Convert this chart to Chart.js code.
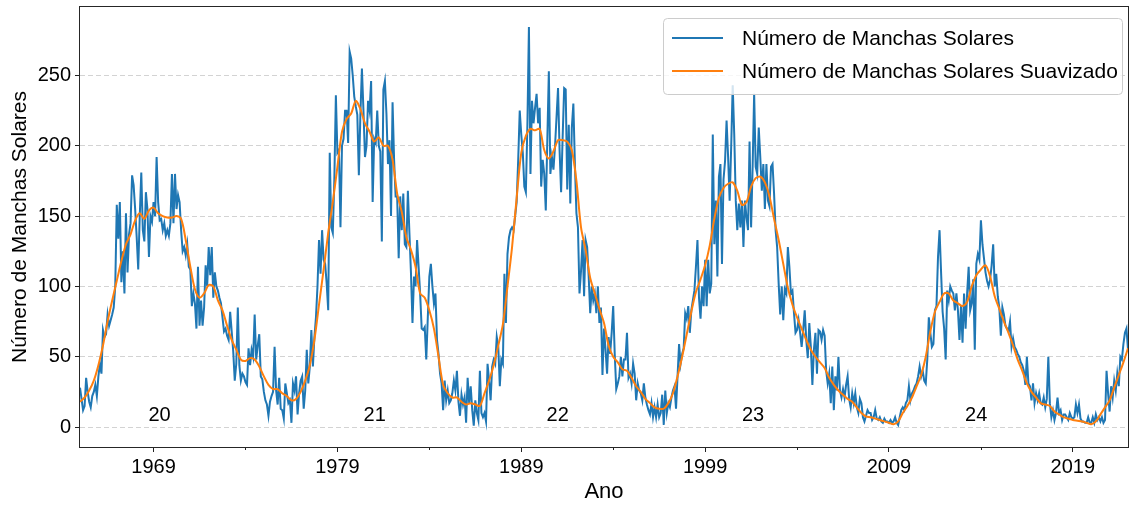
<!DOCTYPE html>
<html>
<head>
<meta charset="utf-8">
<title>Número de Manchas Solares</title>
<script src="https://cdn.jsdelivr.net/npm/chart.js@4.4.1/dist/chart.umd.min.js"></script>
<style>
    html, body { margin: 0; padding: 0; background: #fff; }
    #wrap { width: 1129px; height: 505px; position: relative; }
</style>
</head>
<body>
<div id="wrap"><canvas id="chart"></canvas></div>
<script>
// Número mensal de manchas solares, a partir de jan/1965 (um valor por mês)
const startYear = 1965;

const ssn1965 = [
    28,20,12,15,35,25,18,14,22,25,30,22,
    36,45,38,69,64,66,80,72,76,80,85,100,
    158,134,160,103,125,95,152,110,137,145,179,172,
    155,135,112,150,181,140,132,167,155,121,150,146,
    160,150,192,160,147,148,140,145,136,140,136,145
];
const ssn1970 = [
    180,145,180,155,165,160,140,125,128,122,130,114,
    112,86,95,88,70,114,72,90,72,85,115,100,
    128,108,128,92,110,100,97,92,88,78,68,70,
    65,62,82,68,54,33,45,85,44,33,38,36,
    32,30,56,44,55,50,80,48,58,66,36,34,
    25,19,16,8,18,22,25,57,26,16,35,13,
    12,6,31,24,17,19,3,31,26,36,9,24,
    33,36,13,26,55,31,43,69,43,64,78,100,
    133,109,140,119,116,102,83,195,142,138,176,236,
    195,197,142,200,205,225,225,202,267,262,250,235
];
const ssn1980 = [
    228,222,179,222,255,225,192,200,232,225,246,160,
    205,202,225,200,196,132,240,246,223,187,204,150,
    231,190,164,164,120,164,140,166,130,128,168,138,
    110,74,107,100,133,114,95,70,69,71,48,78,
    107,116,100,88,95,62,52,38,31,12,33,19,
    26,17,19,24,33,26,40,18,8,23,16,21,
    3,35,17,29,12,1,19,10,5,40,10,7,
    10,4,45,33,19,43,48,45,64,57,29,48,
    45,109,74,123,135,140,142,140,150,160,190,225,
    208,195,171,167,215,284.5,180,232,216,227,237,216
];
const ssn1990 = [
    227,171,190,180,154,204,253,180,192,183,199,220,
    241,197,167,206,241,240,169,215,159,213,230,187,
    152,142,95,111,133,93,133,128,107,81,100,90,
    95,81,100,74,85,37,70,55,38,64,52,67,
    86,52,27,31,36,50,36,48,48,67,35,38,
    31,45,38,19,31,26,24,19,31,21,16,12,
    9,17,7,14,7,16,7,10,23,1.5,26,10,
    17,14,21,26,29,13,36,59,45,52,56,81,
    77,86,67,83,90,97,114,133,92,77,100,86,
    119,86,119,95,102,208,130,161,107,178,187,116
];
const ssn2000 = [
    176,189,218,192,161,199,243,208,161,140,159,142,
    161,128,161,149,140,203,142,185,237,185,180,213,
    192,168,187,155,187,161,157,185,187,166,140,128,
    102,80,100,76,98,95,128,114,95,97,81,67,
    69,76,67,57,69,83,62,49,74,57,30,55,
    67,38,69,68,62,69,65,40,31,38,17,43,
    12,36,26,50,26,21,27,21,30,36,20,14,
    24,17,24,14,10,20,17,7,4,8,12,10,
    10,5,7,12,6,5,7,4,3,6,4,4,
    3,5,3,4,7,3,1.4,7,12,14,12,17
];
const ssn2010 = [
    19,29,19,24,26,29,31,36,43,36,40,33,
    31,48,78,67,57,59,83,86,121,140,110,82,
    70,48,97,90,100,97,95,83,95,83,62,86,
    60,95,70,95,114,83,88,105,55,116,123,119,
    147,130,120,110,104,100,105,115,130,100,109,93,
    85,65,85,80,72,70,68,75,57,63,57,55,
    52,50,46,44,40,30,50,31,29,19,31,17,
    24,19,24,17,16,21,14,20,50,17,7,12,
    5,10,21,10,12,5,9,9,7,5,10,7,
    6,7,16,10,16,6,4,4,3,3,7,3
];
const ssn2020 = [
    3,7,3,9,5,7,4,7,3,5,40,24,
    11,29,21,33,26,38,29,50,48,59,67,70,
    55
];

// Série suavizada, lida a cada 3 meses
const smoothStep = 3;
const smoothed = [
    18,21,26,33,44,58,75,90,104,118,130,137,147,152,148,154,156,152,150,149,
    149,150,148,133,114,98,92,95,101,100,90,83,72,62,55,48,47,49,48,43,
    36,30,27,27,24,22,19,20,25,33,44,62,87,112,138,160,185,210,219,223,
    232,226,216,210,203,206,200,200,190,166,153,135,126,114,95,92,83,70,50,30,
    24,21,21,18,16,17,16,15,24,33,44,58,73,100,128,163,195,207,212,211,
    212,197,191,196,204,204,203,197,175,142,126,106,95,84,74,58,50,46,41,40,
    35,29,25,20,17,14,13,13,17,24,36,50,66,82,96,105,115,129,148,163,
    170,173,174,168,158,160,171,177,178,174,164,148,133,116,99,87,78,70,62,55,
    50,46,42,35,30,26,23,20,18,14,10,7.5,7,6,5,4,3,2,4,10,
    15,21,29,37,50,68,82,89,95,95,90,88,86,89,100,108,112,115,107,93,
    84,75,67,58,48,40,31,25,21,17,16,15,11,9,7,6,5,4.5,4,3,
    2,4,9,14,19,28,37,46,56
];

// Eixos e anotações
const xMajorTicks = [1969, 1979, 1989, 1999, 2009, 2019];
const xMinorTicks = [1974, 1984, 1994, 2004, 2014];
const yTicks = [0, 50, 100, 150, 200, 250];
const cycleNames = ['20', '21', '22', '23', '24'];
const cycleYears = [1969.33, 1981.03, 1990.98, 2001.61, 2013.74];
const cycleLevel = 8;

const FONT = '"Liberation Sans", Arial, sans-serif';
const BLUE = '#1f77b4';
const ORANGE = '#ff7f0e';

const sunspots = [].concat(ssn1965, ssn1970, ssn1980, ssn1990, ssn2000, ssn2010, ssn2020);
const rawPoints = sunspots.map((v, i) => ({ x: startYear + i / 12, y: v }));
const smoothPoints = smoothed.map((v, i) => ({ x: startYear + i * smoothStep / 12, y: v }));

// Moldura, ticks menores, números dos ciclos e legenda
const extras = {
    id: 'extras',
    afterDatasetsDraw(chart) {
        const { ctx, chartArea: a, scales: { x, y } } = chart;
        ctx.save();
        ctx.fillStyle = '#000';
        ctx.font = '20px ' + FONT;
        ctx.textAlign = 'center';
        ctx.textBaseline = 'middle';
        cycleNames.forEach((t, i) => {
            ctx.fillText(t, x.getPixelForValue(cycleYears[i]), y.getPixelForValue(cycleLevel));
        });

        // ticks menores
        ctx.strokeStyle = '#222';
        ctx.lineWidth = 1;
        xMinorTicks.forEach(v => {
            const px = Math.round(x.getPixelForValue(v)) + 0.5;
            ctx.beginPath();
            ctx.moveTo(px, a.bottom);
            ctx.lineTo(px, a.bottom + 3);
            ctx.stroke();
        });

        // moldura
        ctx.strokeStyle = '#262626';
        ctx.lineWidth = 1;
        ctx.strokeRect(Math.round(a.left) - 0.5, Math.round(a.top) - 0.5,
            Math.round(a.right - a.left) + 1, Math.round(a.bottom - a.top) + 1);
        ctx.restore();
    },
    afterDraw(chart) {
        const { ctx } = chart;
        const box = { x: 663, y: 18, w: 459, h: 76 };
        ctx.save();
        ctx.beginPath();
        ctx.roundRect(box.x + 0.5, box.y + 0.5, box.w, box.h, 4);
        ctx.fillStyle = 'rgba(255,255,255,0.8)';
        ctx.fill();
        ctx.strokeStyle = '#cccccc';
        ctx.lineWidth = 1;
        ctx.stroke();

        ctx.font = '21px ' + FONT;
        ctx.textAlign = 'left';
        ctx.textBaseline = 'middle';
        ctx.fillStyle = '#000';
        chart.data.datasets.forEach((ds, i) => {
            const ly = 38 + i * 33;
            ctx.strokeStyle = ds.borderColor;
            ctx.lineWidth = 2;
            ctx.beginPath();
            ctx.moveTo(672, ly);
            ctx.lineTo(723, ly);
            ctx.stroke();
            ctx.fillText(ds.label, 742, ly + 1);
        });
        ctx.restore();
    }
};

new Chart(document.getElementById('chart'), {
    type: 'line',
    data: {
        datasets: [
            {
                label: 'Número de Manchas Solares',
                data: rawPoints,
                borderColor: BLUE,
                borderWidth: 2,
                pointRadius: 0,
                tension: 0,
                order: 1
            },
            {
                label: 'Número de Manchas Solares Suavizado',
                data: smoothPoints,
                borderColor: ORANGE,
                borderWidth: 2,
                pointRadius: 0,
                tension: 0.3,
                order: 0
            }
        ]
    },
    options: {
        responsive: true,
        maintainAspectRatio: false,
        devicePixelRatio: 1,
        animation: false,
        layout: { padding: { top: 7, right: 1, left: 0, bottom: 0 } },
        plugins: {
            legend: { display: false },
            tooltip: { enabled: false }
        },
        scales: {
            x: {
                type: 'linear',
                min: 1965,
                max: 2022,
                afterBuildTicks: s => { s.ticks = xMajorTicks.map(v => ({ value: v })); },
                afterFit: s => { s.height = 58; s.paddingLeft = 0; s.paddingRight = 0; },
                ticks: {
                    color: '#000',
                    font: { family: FONT, size: 20 },
                    padding: 3,
                    maxRotation: 0,
                    autoSkip: false,
                    callback: v => String(v)
                },
                grid: { drawOnChartArea: false, drawTicks: true, tickLength: 5, tickColor: '#222', tickWidth: 1 },
                border: { display: false },
                title: {
                    display: true,
                    text: 'Ano',
                    color: '#000',
                    font: { family: FONT, size: 22 },
                    padding: { top: 0, bottom: 0 }
                }
            },
            y: {
                min: -14.2,
                max: 298.7,
                afterBuildTicks: s => { s.ticks = yTicks.map(v => ({ value: v })); },
                afterFit: s => { s.width = 80; s.paddingTop = 0; s.paddingBottom = 0; },
                ticks: {
                    color: '#000',
                    font: { family: FONT, size: 20 },
                    padding: 4
                },
                grid: { color: '#d3d3d3', lineWidth: 1, drawTicks: true, tickLength: 5, tickColor: '#222', tickWidth: 1 },
                border: { display: false, dash: [5, 3] },
                title: {
                    display: true,
                    text: 'Número de Manchas Solares',
                    color: '#000',
                    font: { family: FONT, size: 21 },
                    padding: { top: 8, bottom: 0 }
                }
            }
        }
    },
    plugins: [extras]
});
</script>
</body>
</html>
